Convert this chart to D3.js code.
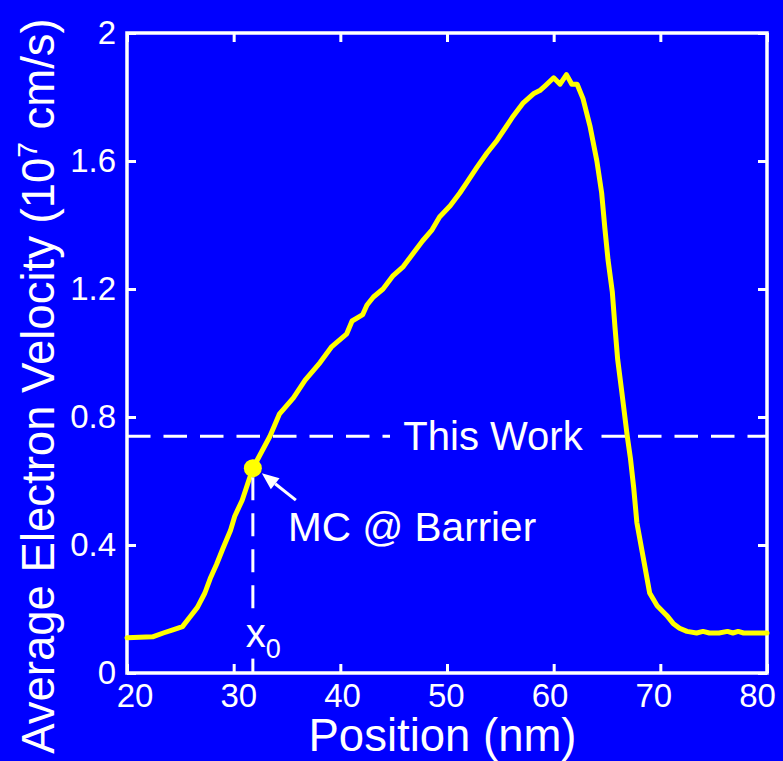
<!DOCTYPE html>
<html>
<head>
<meta charset="utf-8">
<script src="https://cdn.jsdelivr.net/npm/d3@7"></script>
<style>
  html, body { margin: 0; padding: 0; background: #0000FF; }
  svg { display: block; }
  text { font-family: "Liberation Sans", Arial, Helvetica, sans-serif; fill: #ffffff; }
</style>
</head>
<body>
<svg id="chart" width="783" height="761"></svg>
<script>
// Average electron velocity along the channel (Monte Carlo profile)
const positionNm = [20, 21.2, 22.4, 23.4, 24.3, 25.2, 25.9, 26.6, 27.3, 27.8, 28.4, 29.0, 29.7, 30.1,
  30.8, 31.3, 31.8, 32.6, 33.4, 34.3, 35.6, 36.7, 38.1, 39.2, 40.6, 41.1, 42.1, 42.5, 43.1, 44.0,
  44.9, 45.9, 46.8, 47.7, 48.6, 49.3, 50.3, 51.2, 51.9, 52.8, 53.75, 54.7, 55.4, 56.2, 57.1, 58.1,
  58.7, 59.2, 60.0, 60.6, 61.2, 61.7, 62.2, 62.75, 63.4, 64.05, 64.5, 64.8, 65.1, 65.5, 65.75, 66.0,
  66.4, 66.9, 67.2, 67.5, 67.8, 68.4, 69.0, 69.7, 70.6, 71.2, 71.8, 72.5, 73.4, 74.0, 74.6, 75.5,
  76.3, 76.8, 77.3, 77.8, 78.5, 79.2, 80];
const velocity = [0.11, 0.112, 0.113, 0.125, 0.135, 0.145, 0.175, 0.205, 0.25, 0.295, 0.34, 0.39,
  0.445, 0.49, 0.54, 0.59, 0.64, 0.69, 0.74, 0.81, 0.86, 0.915, 0.97, 1.02, 1.06, 1.10, 1.12, 1.15,
  1.175, 1.20, 1.24, 1.27, 1.31, 1.35, 1.385, 1.425, 1.46, 1.50, 1.535, 1.58, 1.625, 1.665, 1.70,
  1.74, 1.78, 1.81, 1.82, 1.835, 1.86, 1.84, 1.87, 1.84, 1.84, 1.795, 1.71, 1.60, 1.50, 1.39,
  1.29, 1.19, 1.08, 0.98, 0.875, 0.74, 0.67, 0.58, 0.47, 0.36, 0.25, 0.21, 0.18, 0.155, 0.14, 0.13,
  0.125, 0.13, 0.125, 0.125, 0.13, 0.125, 0.13, 0.125, 0.125, 0.125, 0.125];

const xTickValues = [20, 30, 40, 50, 60, 70, 80];
const yTickValues = [0, 0.4, 0.8, 1.2, 1.6, 2];
const yTickLabels = ["0", "0.4", "0.8", "1.2", "1.6", "2"];

const thisWorkVelocity = 0.74;      // reference level "This Work"
const barrierPosition = 31.8;       // x0, MC @ Barrier
const barrierVelocity = 0.64;

const W = 783, H = 761;
const margin = { left: 127, right: 16, top: 33, bottom: 88 };
const x0 = margin.left, x1 = W - margin.right, y0 = H - margin.bottom, y1 = margin.top;

const svg = d3.select("#chart");
svg.append("rect").attr("width", W).attr("height", H).attr("fill", "#0000FF");

const x = d3.scaleLinear().domain([20, 80]).range([x0, x1]);
const y = d3.scaleLinear().domain([0, 2]).range([y0, y1]);

const tickLen = 9;
const white = "#ffffff";

// Axes: ticks point inward, mirrored on all four sides
const bottomAxis = d3.axisBottom(x).tickValues(xTickValues).tickSize(-tickLen).tickPadding(11)
  .tickFormat(d3.format("d"));
const topAxis = d3.axisTop(x).tickValues(xTickValues).tickSize(-tickLen).tickFormat("");
const leftAxis = d3.axisLeft(y).tickValues(yTickValues).tickSize(-tickLen).tickPadding(11)
  .tickFormat((d, i) => yTickLabels[i]);
const rightAxis = d3.axisRight(y).tickValues(yTickValues).tickSize(-tickLen).tickFormat("");

function styleAxis(g) {
  g.select(".domain").remove();
  g.selectAll(".tick line").attr("stroke", white).attr("stroke-width", 3);
  g.selectAll(".tick text").attr("fill", white)
    .style("font-family", '"Liberation Sans", Arial, sans-serif').style("font-size", "33px");
}

const gx = svg.append("g").attr("transform", `translate(0,${y0})`).call(bottomAxis).call(styleAxis);
// position labels sit slightly inside the outer ticks so the end labels stay on the page
gx.selectAll(".tick text").attr("x", d => 7.5 - (x(d) - x0) * (17.5 / (x1 - x0)));
svg.append("g").attr("transform", `translate(0,${y1})`).call(topAxis).call(styleAxis);
svg.append("g").attr("transform", `translate(${x0},0)`).call(leftAxis).call(styleAxis);
svg.append("g").attr("transform", `translate(${x1},0)`).call(rightAxis).call(styleAxis);

// Frame
svg.append("rect").attr("x", x0).attr("y", y1).attr("width", x1 - x0).attr("height", y0 - y1)
  .attr("fill", "none").attr("stroke", white).attr("stroke-width", 3.5);

// "This Work" dashed reference level
const yRef = y(thisWorkVelocity);
svg.append("line").attr("x1", x(20)).attr("x2", x(80)).attr("y1", yRef).attr("y2", yRef)
  .attr("stroke", white).attr("stroke-width", 3).attr("stroke-dasharray", "23.5,13");
svg.append("rect").attr("x", 390).attr("y", yRef - 20).attr("width", 206).attr("height", 40)
  .attr("fill", "#0000FF");
svg.append("text").attr("x", 493).attr("y", yRef + 14).attr("text-anchor", "middle")
  .style("font-size", "40px").text("This Work");

// Velocity profile
const line = d3.line().x((d, i) => x(positionNm[i])).y(d => y(d));
svg.append("path").datum(velocity).attr("d", line)
  .attr("fill", "none").attr("stroke", "#FFFF00").attr("stroke-width", 5)
  .attr("stroke-linejoin", "round").attr("stroke-linecap", "round");

// x0 marker: dashed drop line to the axis
const px = x(barrierPosition), py = y(barrierVelocity);
svg.append("line").attr("x1", px).attr("x2", px).attr("y1", py + 9).attr("y2", y(0.2))
  .attr("stroke", white).attr("stroke-width", 3).attr("stroke-dasharray", "23,13");
svg.append("line").attr("x1", px).attr("x2", px).attr("y1", y(0.045)).attr("y2", y0)
  .attr("stroke", white).attr("stroke-width", 3);
const x0Label = svg.append("text").attr("x", px - 7).attr("y", y0 - 26).style("font-size", "40px");
x0Label.append("tspan").text("x");
x0Label.append("tspan").attr("dy", 11).style("font-size", "27px").text("0");

svg.append("circle").attr("cx", px).attr("cy", py).attr("r", 9).attr("fill", "#FFFF00");

// Annotation arrow pointing at the barrier point
const tail = [x(barrierPosition) + 43, y(barrierVelocity) + 32];
const tip = [x(barrierPosition) + 9, y(barrierVelocity) + 5];
const ang = Math.atan2(tip[1] - tail[1], tip[0] - tail[0]);
const headLen = 17, headW = 7;
const base = [tip[0] - headLen * Math.cos(ang), tip[1] - headLen * Math.sin(ang)];
svg.append("line").attr("x1", tail[0]).attr("y1", tail[1]).attr("x2", base[0]).attr("y2", base[1])
  .attr("stroke", white).attr("stroke-width", 3);
svg.append("path").attr("fill", white).attr("d", d3.line()([
  tip,
  [base[0] + headW * Math.sin(ang), base[1] - headW * Math.cos(ang)],
  [base[0] - headW * Math.sin(ang), base[1] + headW * Math.cos(ang)]
]) + "Z");
svg.append("text").attr("x", 288).attr("y", 541).style("font-size", "40.5px").text("MC @ Barrier");

// Axis titles
svg.append("text").attr("x", 442.5).attr("y", 751).attr("text-anchor", "middle")
  .style("font-size", "45.5px").text("Position (nm)");
const yTitle = svg.append("text").attr("transform", "translate(54,386) rotate(-90)")
  .attr("text-anchor", "middle").style("font-size", "45.5px");
yTitle.append("tspan").text("Average Electron Velocity (10");
yTitle.append("tspan").attr("dy", -17).style("font-size", "28px").text("7");
yTitle.append("tspan").attr("dy", 17).text(" cm/s)");
</script>
</body>
</html>
